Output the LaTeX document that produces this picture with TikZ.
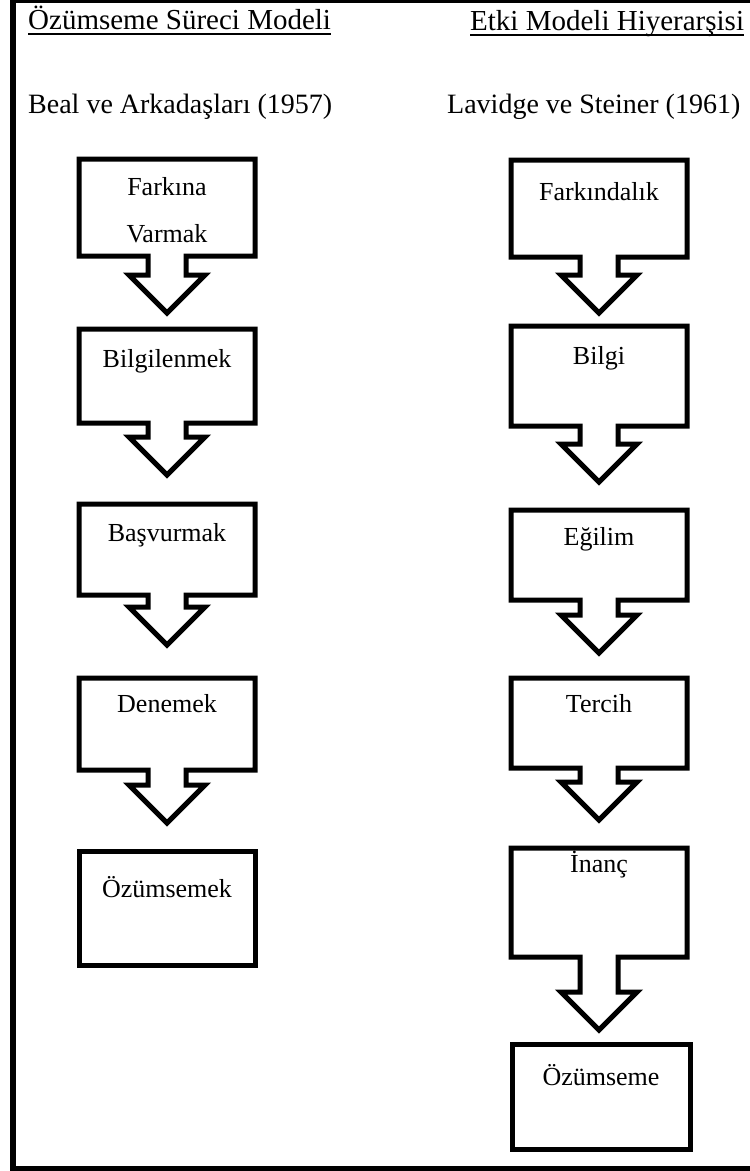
\documentclass[tikz,border=0pt]{standalone}
\usepackage{fontspec}
\setmainfont{Liberation Serif}
% box with a downward block arrow: #1 left, #2 right, #3 top, #4 bottom, #5 shaft end, #6 tip
\newcommand\calloutshape[6]{%
  \pgfmathsetmacro\cx{(#1+#2)/2}%
  \draw[shapeline] (#1,#3) -- (#2,#3) -- (#2,#4) -- (\cx+19,#4) -- (\cx+19,#5)
    -- (\cx+38,#5) -- (\cx,#6) -- (\cx-38,#5) -- (\cx-19,#5) -- (\cx-19,#4)
    -- (#1,#4) -- cycle;}
\begin{document}
\begin{tikzpicture}[x=1pt,y=-1pt,
  shapeline/.style={line width=5pt, line join=miter},
  heading/.style={font=\fontsize{29}{34}\selectfont, inner sep=0pt, anchor=base west},
  author/.style={font=\fontsize{28}{34}\selectfont, inner sep=0pt, anchor=base west},
  lbl/.style={font=\fontsize{26}{30}\selectfont, inner sep=0pt, anchor=base},
  uline/.style={line width=1.4pt}]
\useasboundingbox (0,0) rectangle (750,1171);
\begin{scope}
  \clip (0,0) rectangle (750,1171);
  \draw[line width=6pt] (13,0) rectangle (770,1169);
\end{scope}

% headings
\node[heading] (t1) at (28,29) {Özümseme Süreci Modeli};
\node[author] (a1) at (28,113) {Beal ve Arkadaşları (1957)};
\node[heading] (t2) at (470,30) {Etki Modeli Hiyerarşisi};
\node[author] (a2) at (447,113) {Lavidge ve Steiner (1961)};
\draw[uline] ([yshift=-5pt]t1.base west) -- ([yshift=-5pt]t1.base east);
\draw[uline] ([yshift=-5pt]t2.base west) -- ([yshift=-5pt]t2.base east);

% left column
\calloutshape{79}{255}{159}{256}{275}{313}
\calloutshape{79}{255}{329}{423}{437}{475}
\calloutshape{79}{255}{504}{595}{607}{645}
\calloutshape{79}{255}{678}{770}{785}{823}
\draw[shapeline] (79,851) rectangle (255,965);
\node[lbl] (l1a) at (167,195) {Farkına};
\node[lbl] (l1b) at (167,242) {Varmak};
\node[lbl] (l2) at (167,367) {Bilgilenmek};
\node[lbl] (l3) at (167,541) {Başvurmak};
\node[lbl] (l4) at (167,712) {Denemek};
\node[lbl] (l5) at (167,897) {Özümsemek};

% right column
\calloutshape{511}{687}{160}{257}{275}{313}
\calloutshape{511}{687}{326}{426}{444}{482}
\calloutshape{511}{687}{510}{600}{615}{653}
\calloutshape{511}{687}{678}{768}{782}{820}
\calloutshape{511}{687}{848}{957}{992}{1030}
\draw[shapeline] (512,1044) rectangle (690,1149);
\node[lbl] (r1) at (599,200) {Farkındalık};
\node[lbl] (r2) at (599,364) {Bilgi};
\node[lbl] (r3) at (599,545) {Eğilim};
\node[lbl] (r4) at (599,712) {Tercih};
\node[lbl] (r5) at (599,872) {İnanç};
\node[lbl] (r6) at (601,1085) {Özümseme};
\end{tikzpicture}
\end{document}
